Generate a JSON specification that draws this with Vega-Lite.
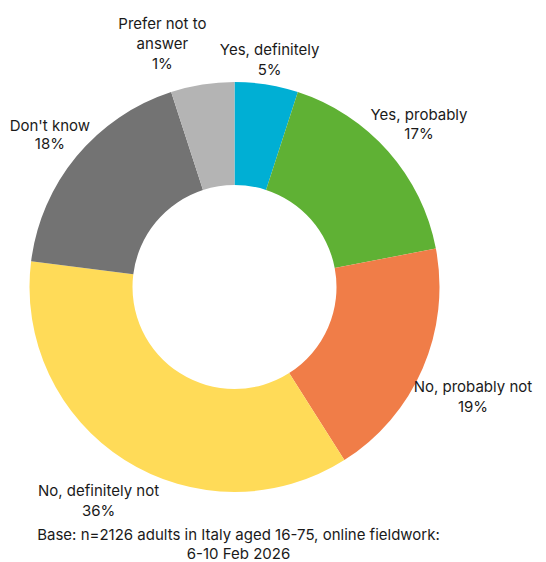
{
  "$schema": "https://vega.github.io/schema/vega-lite/v6.json",
  "width": 469,
  "height": 550,
  "autosize": "none",
  "padding": {"left": 0, "top": 12, "right": 77, "bottom": 0},
  "background": "white",
  "config": {"view": {"stroke": null}, "font": "Inter"},
  "title": {
    "text": ["Base: n=2126 adults in Italy aged 16-75, online fieldwork:", "6-10 Feb 2026"],
    "orient": "bottom",
    "frame": "group",
    "anchor": "middle",
    "offset": -34,
    "dx": 4,
    "font": "Inter",
    "fontSize": 15,
    "fontWeight": "normal",
    "color": "#1a1a1a",
    "lineHeight": 19
  },
  "data": {
    "values": [
      {"category": "Yes, definitely", "share": 5, "label": "Yes, definitely\n5%", "order": 1},
      {"category": "Yes, probably", "share": 17, "label": "Yes, probably\n17%", "order": 2},
      {"category": "No, probably not", "share": 19, "label": "No, probably not\n19%", "order": 3},
      {"category": "No, definitely not", "share": 36, "label": "No, definitely not\n36%", "order": 4},
      {"category": "Don't know", "share": 18, "label": "Don't know\n18%", "order": 5},
      {"category": "Prefer not to answer", "share": 5, "label": "Prefer not to\nanswer\n1%", "order": 6}
    ]
  },
  "encoding": {
    "theta": {"field": "share", "type": "quantitative", "stack": true},
    "order": {"field": "order", "type": "quantitative"}
  },
  "layer": [
    {
      "mark": {"type": "arc", "radius": 205, "radius2": 102, "stroke": null},
      "encoding": {
        "color": {
          "field": "category",
          "type": "nominal",
          "legend": null,
          "scale": {
            "domain": ["Yes, definitely", "Yes, probably", "No, probably not", "No, definitely not", "Don't know", "Prefer not to answer"],
            "range": ["#00AFD4", "#5FB134", "#F07D48", "#FFDB58", "#737373", "#B4B4B4"]
          }
        }
      }
    },
    {
      "mark": {"type": "text", "radius": 250, "dx": -4, "dy": 10, "lineBreak": "\n", "fontSize": 15, "color": "#1a1a1a", "lineHeight": 20, "align": "center", "baseline": "middle"},
      "encoding": {"text": {"condition": {"test": "datum.order == 1", "field": "label"}, "value": ""}}
    },
    {
      "mark": {"type": "text", "radius": 250, "dx": -3, "dy": -7, "lineBreak": "\n", "fontSize": 15, "color": "#1a1a1a", "lineHeight": 19, "align": "center", "baseline": "middle"},
      "encoding": {"text": {"condition": {"test": "datum.order == 2", "field": "label"}, "value": ""}}
    },
    {
      "mark": {"type": "text", "radius": 250, "dx": 9, "dy": 1, "lineBreak": "\n", "fontSize": 15, "color": "#1a1a1a", "lineHeight": 20, "align": "center", "baseline": "middle"},
      "encoding": {"text": {"condition": {"test": "datum.order == 3", "field": "label"}, "value": ""}}
    },
    {
      "mark": {"type": "text", "radius": 250, "dx": -2, "dy": -7, "lineBreak": "\n", "fontSize": 15, "color": "#1a1a1a", "lineHeight": 20, "align": "center", "baseline": "middle"},
      "encoding": {"text": {"condition": {"test": "datum.order == 4", "field": "label"}, "value": ""}}
    },
    {
      "mark": {"type": "text", "radius": 250, "dx": 8, "dy": -2, "lineBreak": "\n", "fontSize": 15, "color": "#1a1a1a", "lineHeight": 18, "align": "center", "baseline": "middle"},
      "encoding": {"text": {"condition": {"test": "datum.order == 5", "field": "label"}, "value": ""}}
    },
    {
      "mark": {"type": "text", "radius": 250, "dx": -33, "dy": -16, "lineBreak": "\n", "fontSize": 15, "color": "#1a1a1a", "lineHeight": 20, "align": "center", "baseline": "middle"},
      "encoding": {"text": {"condition": {"test": "datum.order == 6", "field": "label"}, "value": ""}}
    }
  ]
}
